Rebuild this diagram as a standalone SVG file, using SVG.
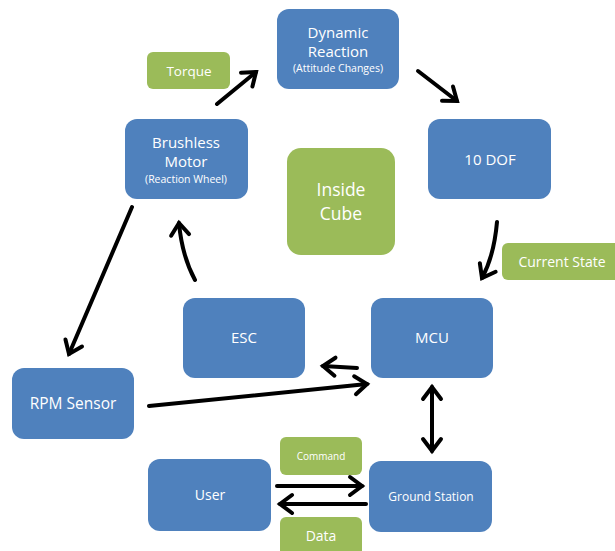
<svg xmlns="http://www.w3.org/2000/svg" width="615" height="551" viewBox="0 0 615 551">
<defs>
<style>
.b{fill:#4F81BD;}
.g{fill:#9BBB59;}
text{font-family:"Open Sans","Liberation Sans",sans-serif;fill:#FFFFFF;text-anchor:middle;}
.c{fill:none;stroke:#000;stroke-width:4;stroke-linecap:round;marker-end:url(#ah);}
</style>
<marker id="ah" viewBox="-16 -12 20 24" markerUnits="userSpaceOnUse" markerWidth="20" markerHeight="24" refX="0" refY="0" orient="auto-start-reverse" overflow="visible">
<path d="M-12,-9 L0,0 L-12,9" fill="none" stroke="#000" stroke-width="4" stroke-linejoin="miter" stroke-linecap="round"/>
</marker>
</defs>
<rect width="615" height="551" fill="#FFFFFF"/>
<g id="dynamic"><rect class="b" x="277" y="9" width="122" height="80" rx="12"/><text x="338" y="38" font-size="15">Dynamic</text><text x="338" y="57" font-size="15">Reaction</text><text x="338" y="72" font-size="10.5">(Attitude Changes)</text></g>
<g id="torque"><rect class="g" x="147" y="52" width="83" height="37" rx="6"/><text x="189" y="76" font-size="13.5">Torque</text></g>
<g id="brushless"><rect class="b" x="125" y="119" width="123" height="80" rx="12"/><text x="186" y="148" font-size="15">Brushless</text><text x="186" y="167" font-size="15">Motor</text><text x="186" y="183" font-size="10.5">(Reaction Wheel)</text></g>
<g id="dof"><rect class="b" x="428" y="119" width="123" height="80" rx="12"/><text x="490" y="165" font-size="15">10 DOF</text></g>
<g id="inside"><rect class="g" x="287" y="148" width="108" height="107" rx="14"/><text x="341" y="196" font-size="17.5">Inside</text><text x="341" y="220" font-size="17.5">Cube</text></g>
<g id="current"><rect class="g" x="502" y="243" width="125" height="37" rx="6"/><text x="562" y="267" font-size="14">Current State</text></g>
<g id="esc"><rect class="b" x="183" y="298" width="122" height="80" rx="12"/><text x="244" y="343" font-size="15">ESC</text></g>
<g id="mcu"><rect class="b" x="371" y="298" width="122" height="80" rx="12"/><text x="432" y="343" font-size="15">MCU</text></g>
<g id="rpm"><rect class="b" x="12" y="368" width="122" height="71" rx="12"/><text x="73" y="409" font-size="15.5">RPM Sensor</text></g>
<g id="user"><rect class="b" x="148" y="459" width="123" height="72" rx="12"/><text x="210" y="500" font-size="14">User</text></g>
<g id="ground"><rect class="b" x="369" y="461" width="123" height="71" rx="12"/><text x="431" y="501" font-size="12">Ground Station</text></g>
<g id="command"><rect class="g" x="280" y="437" width="82" height="38" rx="6"/><text x="321" y="460" font-size="10">Command</text></g>
<g id="data"><rect class="g" x="280" y="517" width="82" height="40" rx="6"/><text x="321" y="541" font-size="14">Data</text></g>
<g id="connectors">
<path class="c" d="M217,104 L256,72"/>
<path class="c" d="M418,71 L457,101"/>
<path class="c" d="M497,222 Q494,256 482,278"/>
<path class="c" d="M195,280 Q182,256 179,223"/>
<path class="c" d="M132,207 L69,354"/>
<path class="c" d="M149,406 L367,384"/>
<path class="c" d="M357,368 L323,366"/>
<path class="c" d="M432,387 L432,451" style="marker-start:url(#ah)"/>
<path class="c" d="M277,486 L362,486"/>
<path class="c" d="M366,504 L280,504"/>
</g>
</svg>
